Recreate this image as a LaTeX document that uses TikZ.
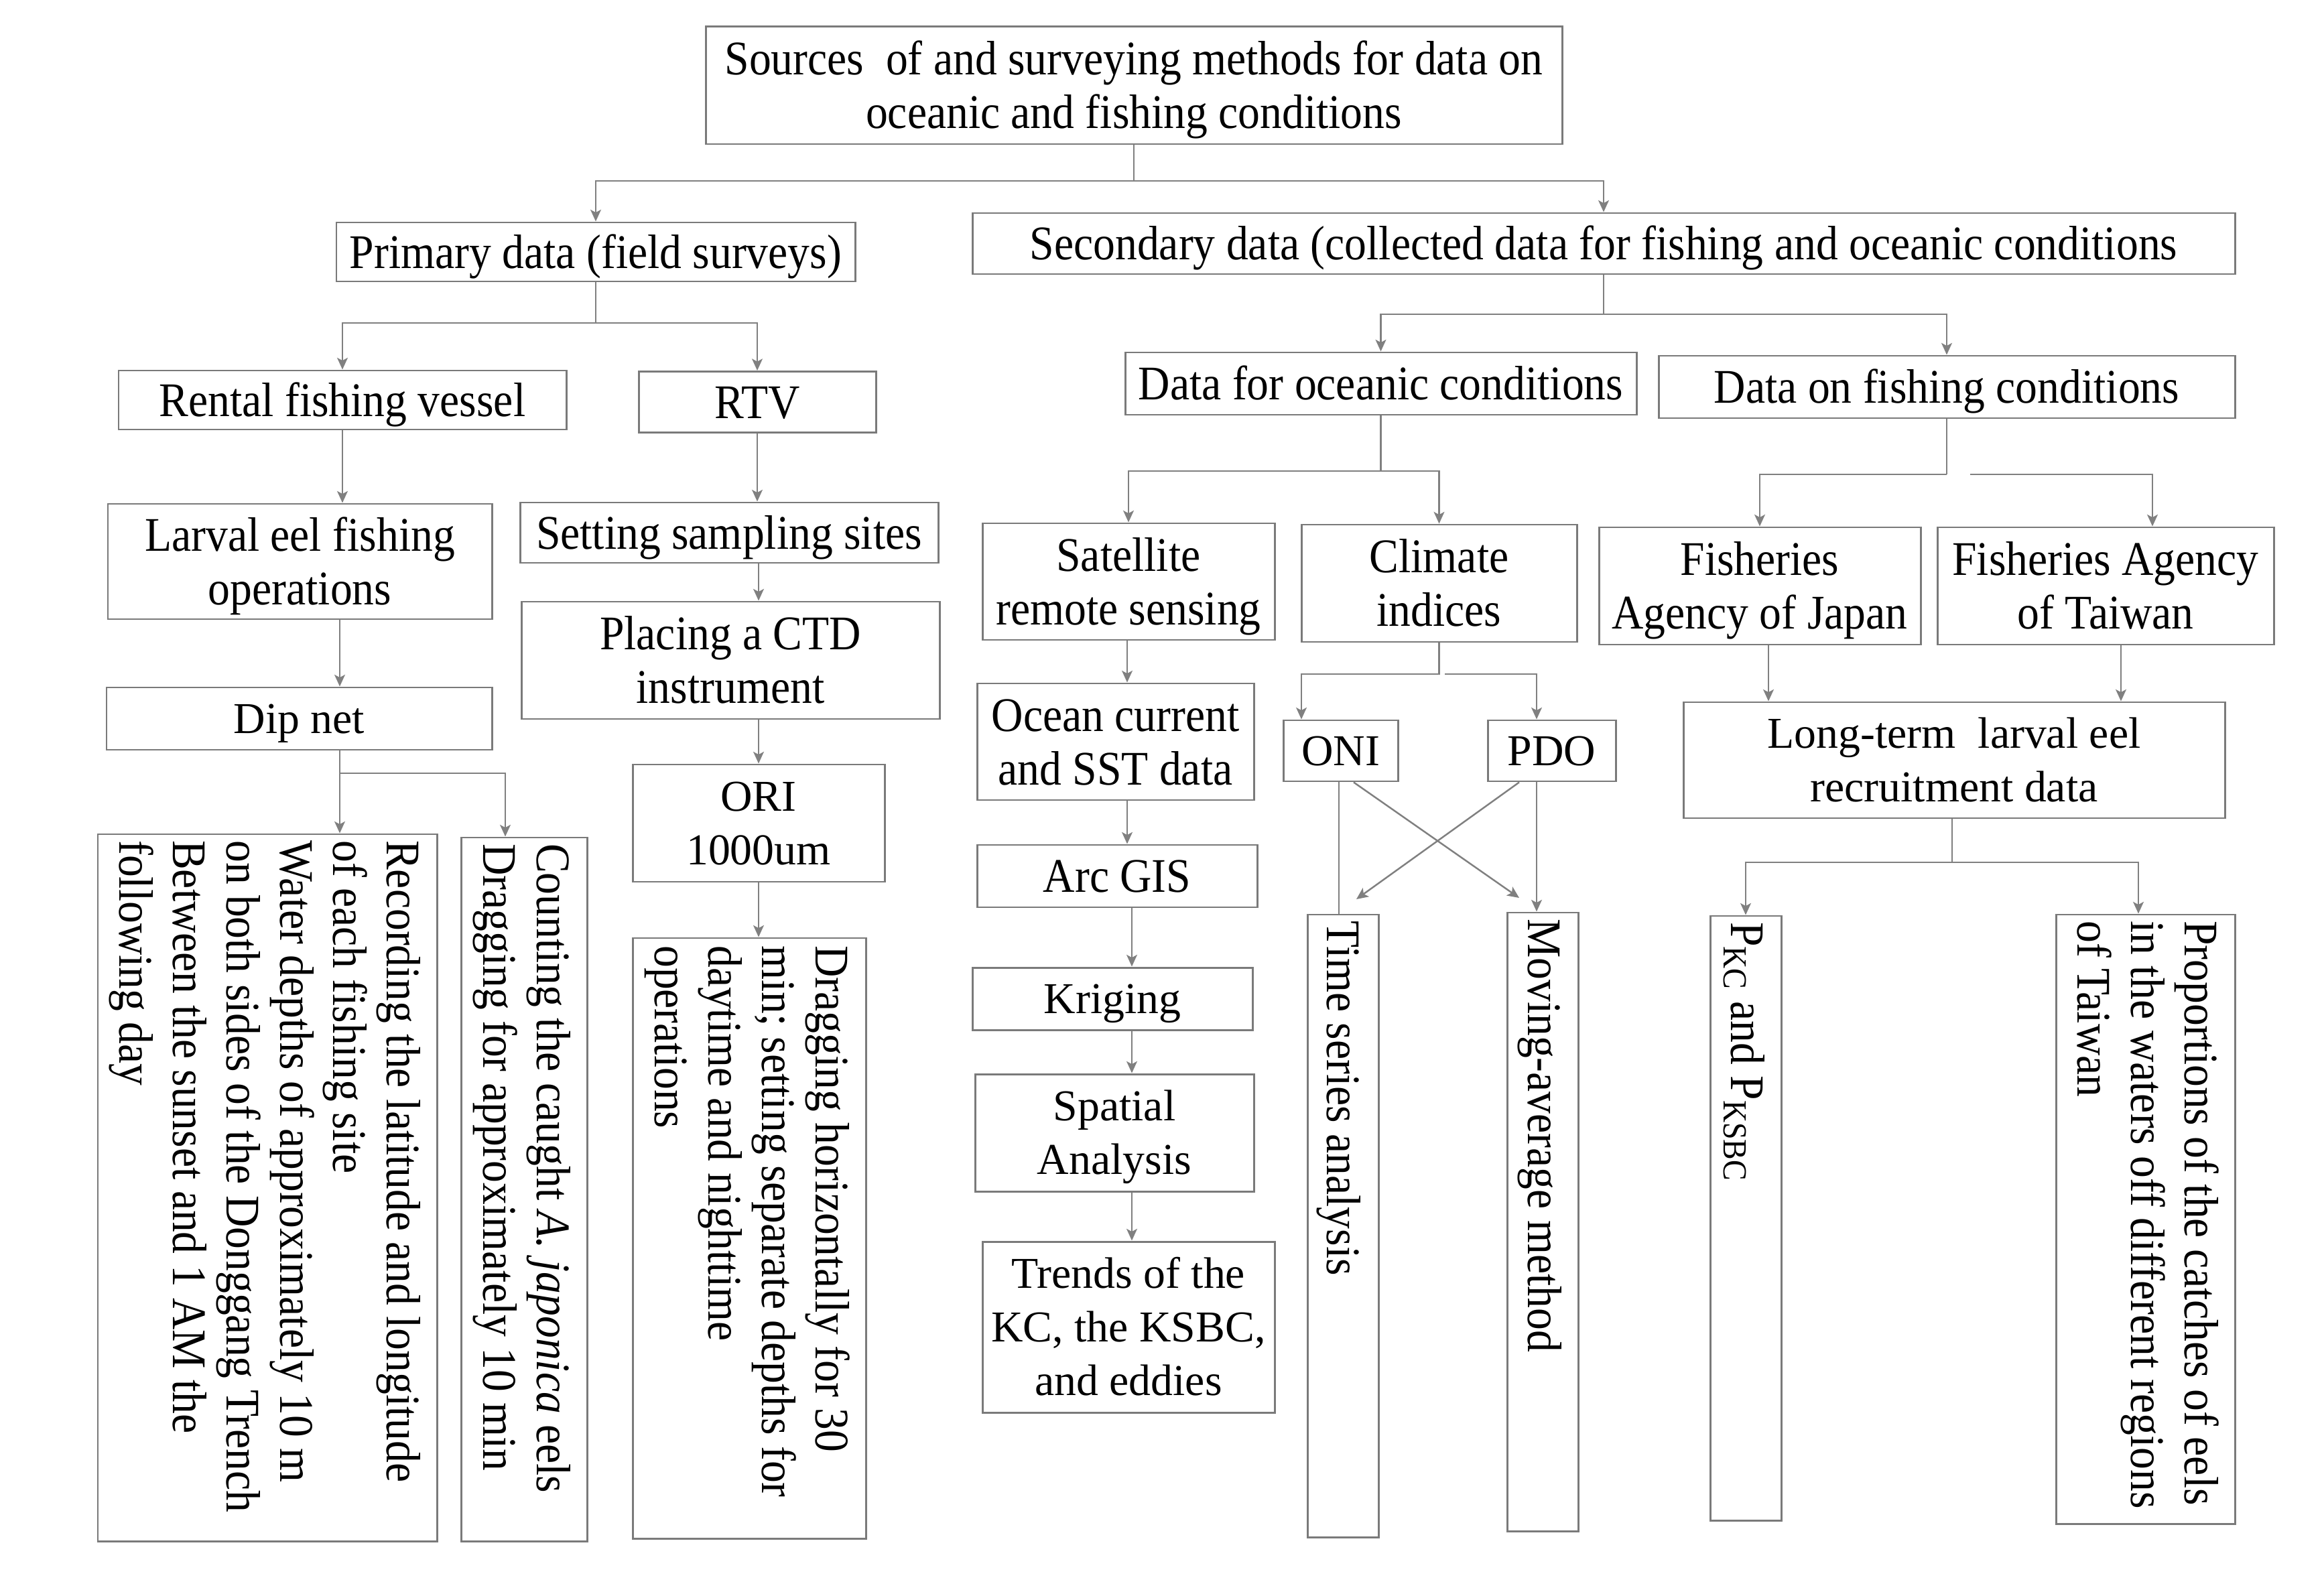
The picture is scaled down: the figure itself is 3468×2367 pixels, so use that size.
\documentclass[tikz,border=0pt]{standalone}
\usepackage{fontspec}
\setmainfont{Liberation Serif}
\newfontfamily\cnd[FakeStretch=0.91]{Liberation Serif}
\usetikzlibrary{arrows.meta}
\definecolor{edge}{HTML}{808080}
\definecolor{bord}{HTML}{7A7A7A}
\newcommand\lnt{\rule{0pt}{0.891em}}
\begin{document}
\begin{tikzpicture}[x=0.01cm,y=-0.01cm,
  cf/.style={font=\cnd\fontsize{20.5}{22.7}\selectfont},
  wf/.style={font=\fontsize{18.7}{22.7}\selectfont},
  box/.style={draw=bord, line width=0.85pt, inner sep=0pt, align=center, text=black,
    execute at begin node={\rule{0pt}{0.891em}},
    execute at end node={\rule[-0.216em]{0pt}{0pt}}},
  vbox/.style={draw=bord, line width=0.85pt, inner sep=0pt},
  wh/.style 2 args={minimum width=#1*0.01cm, minimum height=#2*0.01cm},
  vtxt/.style={cf, rotate=-90, anchor=north west, align=left, inner sep=0pt, text=black},
  ln/.style={draw=edge, line width=0.7pt},
  arr/.style={ln, -{Stealth[length=5pt,width=4.5pt,inset=1.2pt]}}]
\fill[white] (0,0) rectangle (3468,2367);
\useasboundingbox (0,0) rectangle (3468,2367);

% ---- boxes ----
\node[box,cf,wh={1278}{175}] (top) at (1692,127.5) {\lnt Sources~ of and surveying methods for data on\\oceanic and fishing conditions};
\node[box,cf,wh={774}{88}] (primary) at (889,376) {Primary data (field surveys)};
\node[box,cf,wh={1884}{91}] (secondary) at (2393,363.5) {Secondary data (collected data for fishing and oceanic conditions};
\node[box,cf,wh={668}{88}] (rental) at (511,597) {Rental fishing vessel};
\node[box,cf,wh={354}{91}] (rtv) at (1130,600) {RTV};
\node[box,cf,wh={573}{172}] (larval) at (447.5,838) {\lnt Larval eel fishing\\operations};
\node[box,cf,wh={624}{90}] (setting) at (1088,795) {Setting sampling sites};
\node[box,cf,wh={624}{175}] (placing) at (1090,985.5) {\lnt Placing a CTD\\instrument};
\node[box,wf,wh={575}{93}] (dip) at (446.5,1072.5) {Dip net};
\node[box,wf,wh={376}{175}] (ori) at (1132,1228.5) {\lnt ORI\\1000um};
\node[vbox,wh={506}{1055}] (rec) at (399,1772.5) {};
\node[vbox,wh={188}{1050}] (count) at (782,1775) {};
\node[vbox,wh={348}{896}] (drag) at (1118,1848) {};
\node[box,cf,wh={763}{93}] (ocean) at (2060.5,572.5) {Data for oceanic conditions};
\node[box,cf,wh={860}{93}] (fishing) at (2905,577.5) {Data on fishing conditions};
\node[box,cf,wh={436}{174}] (sat) at (1684,868) {\lnt Satellite\\remote sensing};
\node[box,cf,wh={411}{175}] (clim) at (2147.5,870.5) {\lnt Climate\\indices};
\node[box,cf,wh={480}{175}] (japan) at (2626,874.5) {\lnt Fisheries\\Agency of Japan};
\node[box,cf,wh={502}{175}] (taiwan) at (3142,874.5) {\lnt Fisheries Agency\\of Taiwan};
\node[box,cf,wh={413}{174}] (ocur) at (1664.5,1107) {\lnt Ocean current\\and SST data};
\node[box,wf,wh={171}{91}] (oni) at (2000.5,1120.5) {ONI};
\node[box,wf,wh={191}{91}] (pdo) at (2315.5,1120.5) {PDO};
\node[box,wf,wh={808}{173}] (long) at (2916,1134.5) {\lnt Long-term~ larval eel\\recruitment data};
\node[box,cf,wh={418}{93}] (arc) at (1667,1307.5) {Arc GIS};
\node[box,wf,wh={418}{93}] (krig) at (1660,1490.5) {Kriging};
\node[box,wf,wh={416}{175}] (spat) at (1663,1690.5) {\lnt Spatial\\Analysis};
\node[box,wf,wh={436}{255}] (trend) at (1684,1980.5) {\lnt Trends of the\\KC, the KSBC,\\and eddies};
\node[vbox,wh={106}{929}] (tsa) at (2004,1829.5) {};
\node[vbox,wh={106}{923}] (mav) at (2302,1823.5) {};
\node[vbox,wh={106}{902}] (pkc) at (2605,1818) {};
\node[vbox,wh={267}{909}] (prop) at (3201.5,1819.5) {};

% ---- vertical texts ----
\node[vtxt] (rect) at ([shift={(-25,10)}]rec.north east) {Recording the latitude and longitude\\of each fishing site\\Water depths of approximately 10 m\\on both sides of the Donggang Trench\\Between the sunset and 1 AM the\\following day};
\node[vtxt] (countt) at ([shift={(-25,10)}]count.north east) {Counting the caught \textit{A. japonica} eels\\Dragging for approximately 10 min};
\node[vtxt] (dragt) at ([shift={(-25,12)}]drag.north east) {Dragging horizontally for 30\\min; setting separate depths for\\daytime and nighttime\\operations};
\node[vtxt] (tsat) at ([shift={(-27,10)}]tsa.north east) {Time series analysis};
\node[vtxt] (mavt) at ([shift={(-25,10)}]mav.north east) {Moving-average method};
\node[vtxt] (pkct) at ([shift={(-25,10)}]pkc.north east) {P\textsubscript{KC} and P\textsubscript{KSBC}};
\node[vtxt] (propt) at ([shift={(-25,10)}]prop.north east) {Proportions of the catches of eels\\in the waters off different regions\\of Taiwan};

% ---- connectors: primary side ----
\coordinate (jt) at (1694,270);
\draw[ln] (top.south) -- (top.south |- jt);
\draw[arr] (top.south |- jt) -| (primary.north);
\draw[arr] (top.south |- jt) -| (secondary.north);

\coordinate (jp) at (889,482);
\draw[ln] (primary.south) -- (primary.south |- jp);
\draw[arr] (primary.south |- jp) -| (rental.north);
\draw[arr] (primary.south |- jp) -| (rtv.north);

\draw[arr] (rental.south) -- (rental.south |- larval.north);
\draw[arr] (rtv.south) -- (rtv.south |- setting.north);
\draw[arr] (setting.south -| ori.north) -- (placing.north -| ori.north);
\draw[arr] (placing.south -| ori.north) -- (ori.north);
\draw[arr] (ori.south) -- (ori.south |- drag.north);

\coordinate (xl) at (507,1154);
\draw[arr] (larval.south -| xl) -- (dip.north -| xl);
\draw[ln] (dip.south -| xl) -- (xl);
\draw[arr] (xl) -- (rec.north -| xl);
\coordinate (xc) at (754,0);
\draw[arr] (xl) -| (count.north -| xc);

% ---- connectors: secondary side ----
\coordinate (js) at (2395,469);
\draw[ln] (secondary.south) -- (secondary.south |- js);
\draw[arr] (secondary.south |- js) -| (ocean.north);
\draw[arr] (secondary.south |- js) -| (fishing.north);

\coordinate (jo) at (0,703);
\draw[ln] (ocean.south) -- (ocean.south |- jo);
\draw[arr] (ocean.south |- jo) -| (sat.north);
\draw[arr] (ocean.south |- jo) -| (clim.north);

\coordinate (jf) at (0,708);
\draw[ln] (fishing.south) -- (fishing.south |- jf);
\draw[arr] (fishing.south |- jf) -| (japan.north);
\coordinate (jfr) at (2940,708);
\coordinate (xtw) at (3212,0);
\draw[arr] (jfr) -| (taiwan.north -| xtw);

\coordinate (xs) at (1682,0);
\draw[arr] (sat.south -| xs) -- (ocur.north -| xs);
\draw[arr] (ocur.south -| xs) -- (arc.north -| xs);
\coordinate (xs2) at (1689,0);
\draw[arr] (arc.south -| xs2) -- (krig.north -| xs2);
\draw[arr] (krig.south -| xs2) -- (spat.north -| xs2);
\draw[arr] (spat.south -| xs2) -- (trend.north -| xs2);

\coordinate (jc) at (0,1006);
\coordinate (xa) at (1942,0);
\coordinate (xb) at (2293,0);
\draw[arr] (clim.south) -- (clim.south |- jc) -| (oni.north -| xa);
\coordinate (jcr) at (2156,1006);
\draw[arr] (jcr) -| (pdo.north -| xb);

\coordinate (xo1) at (1998,0);
\draw[ln] (oni.south -| xo1) -- (tsa.north -| xo1);
\coordinate (xo2) at (2020,0);
\coordinate (ce1) at (2267,1340);
\draw[arr] (oni.south -| xo2) -- (ce1);
\coordinate (xp2) at (2267,0);
\coordinate (ce2) at (2024,1342);
\draw[arr] (pdo.south -| xp2) -- (ce2);
\draw[arr] (pdo.south -| xb) -- (mav.north -| xb);

\coordinate (xj) at (2639,0);
\draw[arr] (japan.south -| xj) -- (long.north -| xj);
\coordinate (xt) at (3165,0);
\draw[arr] (taiwan.south -| xt) -- (long.north -| xt);
\coordinate (jl) at (2913,1287);
\draw[ln] (long.south -| jl) -- (jl);
\draw[arr] (jl) -| (pkc.north);
\coordinate (xpr) at (3191,0);
\draw[arr] (jl) -| (prop.north -| xpr);
\end{tikzpicture}
\end{document}
